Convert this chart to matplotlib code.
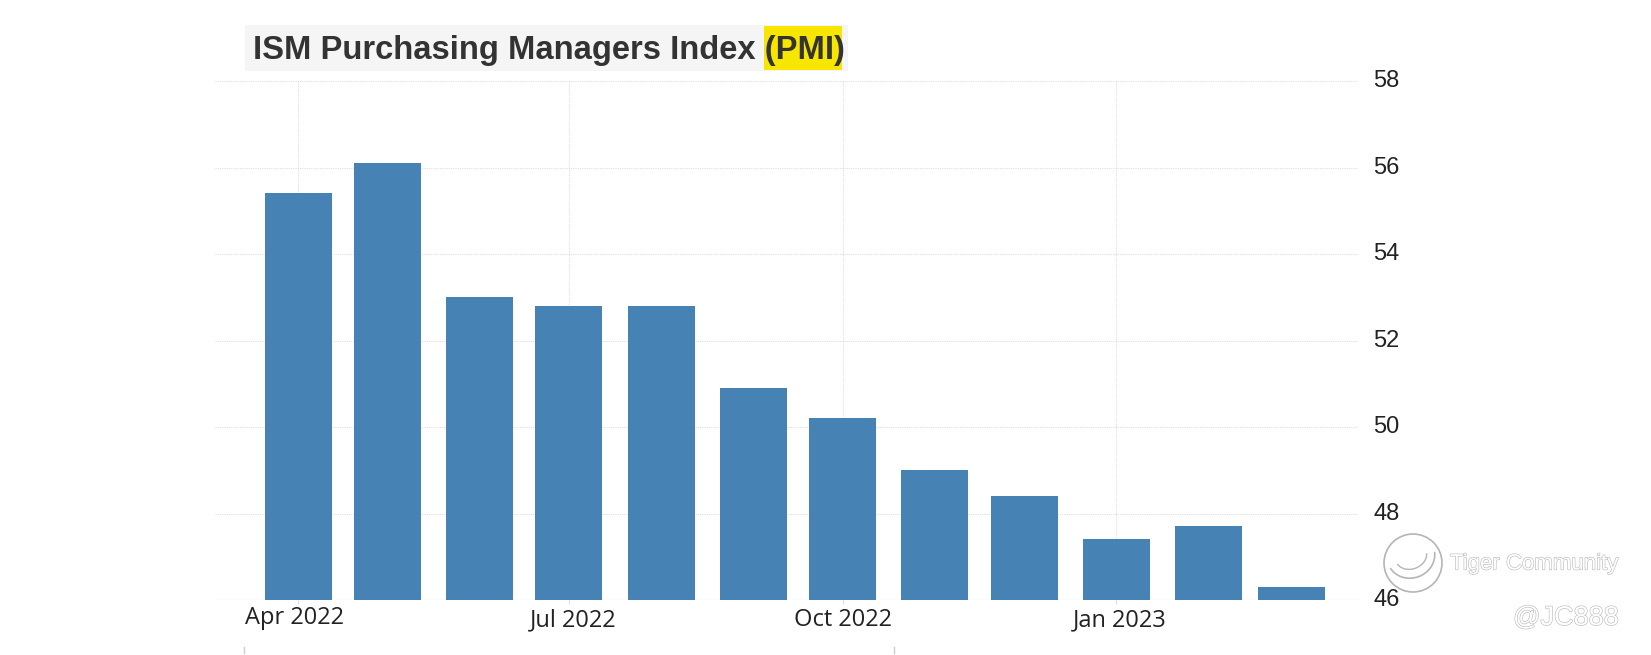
import matplotlib
matplotlib.use("Agg")
import matplotlib.pyplot as plt
import matplotlib.dates as mdates
import matplotlib.patheffects as pe
from matplotlib.patches import Rectangle, Circle, Arc
from matplotlib.transforms import IdentityTransform, ScaledTranslation
from datetime import datetime, timedelta

months = ["2022-04", "2022-05", "2022-06", "2022-07", "2022-08", "2022-09",
          "2022-10", "2022-11", "2022-12", "2023-01", "2023-02", "2023-03"]
pmi = [55.4, 56.1, 53.0, 52.8, 52.8, 50.9, 50.2, 49.0, 48.4, 47.4, 47.7, 46.3]
tick_months = ["2022-04", "2022-07", "2022-10", "2023-01"]
tick_labels = ["Apr 2022", "Jul 2022", "Oct 2022", "Jan 2023"]
y_ticks = [46, 48, 50, 52, 54, 56, 58]

W, H = 1651, 655
plt.rcParams['font.family'] = ['Liberation Sans', 'DejaVu Sans']

fig = plt.figure(figsize=(W / 100, H / 100), dpi=100, facecolor='white')
ax = fig.add_axes([215 / W, 1 - 600 / H, (1358 - 215) / W, (600 - 81) / H])

dates = [datetime.strptime(m, "%Y-%m") for m in months]
tick_dates = [datetime.strptime(m, "%Y-%m") for m in tick_months]

ax.bar(dates, pmi, width=22.5, color='#4682b4', zorder=3)
ax.set_ylim(46, 58)
ax.set_xlim(dates[0] - timedelta(days=27.9), dates[0] + timedelta(days=356.2))
ax.set_yticks(y_ticks)
ax.yaxis.tick_right()
ax.set_xticks(mdates.date2num(tick_dates))
ax.set_xticklabels(tick_labels, family='Open Sans', fontsize=17, color='#222222')
ax.tick_params(axis='x', length=3, width=0.6, color='#d8d8d8', pad=5)
ax.tick_params(axis='y', length=0, pad=16, labelsize=17, labelcolor='#222222')
ax.grid(True, color='#dedede', linewidth=0.8, linestyle=(0, (1, 1)), zorder=0)
for s in ax.spines.values():
    s.set_visible(False)
ax.axhline(46, color='#d8d8d8', linewidth=0.8, zorder=2)

# the source labels sit a few pixels off their ticks
for lab, dx, dy in zip(ax.get_xticklabels(), [-4, 4, 0, 3], [5, 3, 3, 3]):
    lab.set_transform(lab.get_transform() + ScaledTranslation(dx / 100, dy / 100, fig.dpi_scale_trans))
for lab in ax.get_yticklabels():
    lab.set_transform(lab.get_transform() + ScaledTranslation(-7 / 100, 2 / 100, fig.dpi_scale_trans))


def px(x, y):
    return x / W, 1 - y / H


# title with its grey strip and the yellow marker behind (PMI
fig.add_artist(Rectangle(px(245, 71), 603 / W, 46 / H, transform=fig.transFigure,
                         color='#f5f5f5', lw=0, zorder=1))
fig.add_artist(Rectangle(px(764, 70), 78 / W, 44 / H, transform=fig.transFigure,
                         color='#f7e600', lw=0, zorder=2))
fig.text(*px(253, 50), "ISM Purchasing Managers Index (PMI)", fontsize=23.6,
         fontweight='bold', color='#333333', va='center', ha='left', zorder=3)

# small stray marks under the chart
for mx in [244, 894]:
    fig.add_artist(plt.Line2D([mx / W, mx / W], [1 - 647 / H, 1 - 653 / H],
                              color='#cccccc', linewidth=1))

# watermark, drawn in pixel coordinates (y flipped)
line_c = '#b5b5b5'
outline = [pe.withStroke(linewidth=0.9, foreground='#bdbdbd')]
fig.add_artist(Circle((1413, H - 563), 29, transform=IdentityTransform(),
                      fill=False, edgecolor=line_c, linewidth=1.2))
fig.add_artist(Arc((1411, H - 556), 48, 44, angle=20, theta1=190, theta2=350,
                   transform=IdentityTransform(), edgecolor=line_c, linewidth=1.2))
fig.add_artist(Arc((1411, H - 556), 32, 26, angle=20, theta1=190, theta2=350,
                   transform=IdentityTransform(), edgecolor=line_c, linewidth=1.0))
fig.text(*px(1450, 564), "Tiger Community", fontsize=16, color='white',
         va='center', ha='left', path_effects=outline)
fig.text(*px(1513, 618), "@JC888", fontsize=19.5, color='white',
         va='center', ha='left', path_effects=outline)

fig.savefig("out.png", dpi=100)
